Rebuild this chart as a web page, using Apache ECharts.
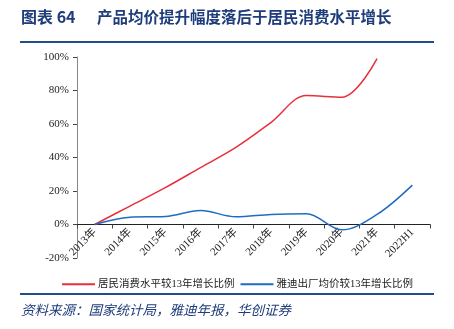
<!DOCTYPE html>
<html><head><meta charset="utf-8">
<script src="https://cdn.jsdelivr.net/npm/echarts@6/dist/echarts.min.js"></script>
<style>html,body{margin:0;padding:0;background:#fff}#c{width:454px;height:329px}</style>
</head><body><div id="c"></div>
<script>
const categories = ['2013年','2014年','2015年','2016年','2017年','2018年','2019年','2020年','2021年','2022H1'];
const consumption = [0, 11, 22, 34, 46, 61, 77, 76, 99, null];
const yadiPrice = [0, 4.4, 4.8, 8.4, 4.6, 6, 6.4, -3.2, 6, 23.5];
const seriesNames = ['居民消费水平较13年增长比例', '雅迪出厂均价较13年增长比例'];
const yTicks = { min: -20, max: 100, interval: 20 };
const titleNum = '图表 64';
const titleText = '产品均价提升幅度落后于居民消费水平增长';
const sourceText = '资料来源：国家统计局，雅迪年报，华创证券';

const serif = "'Liberation Serif','Noto Sans CJK SC',serif";
const gridTop = 57, gridBottom = 71, H = 329;
const gridH = H - gridTop - gridBottom;
const zeroOffset = gridH * (0 - yTicks.min) / (yTicks.max - yTicks.min);
const chart = echarts.init(document.getElementById('c'), null, {renderer:'canvas'});
chart.setOption({
  animation: false,
  grid: { left: 77, right: 24, top: gridTop, bottom: gridBottom },
  legend: {
    left: 57, top: 274, itemWidth: 33, itemHeight: 2, itemGap: 6,
    icon: 'rect',
    textStyle: { fontFamily: serif, fontSize: 10.5, color: '#222', padding: [0,0,0,-2] },
    data: seriesNames
  },
  xAxis: {
    type: 'category', data: categories, boundaryGap: true,
    offset: -zeroOffset,
    axisLine: { onZero: false, lineStyle: { color: '#222', width: 1 } },
    axisTick: { show: true, length: 4, lineStyle: { color: '#444' } },
    axisLabel: { rotate: 45, fontFamily: serif, fontSize: 11, color: '#222', margin: 6 }
  },
  yAxis: {
    type: 'value', min: yTicks.min, max: yTicks.max, interval: yTicks.interval,
    splitLine: { show: false },
    axisLine: { show: true, lineStyle: { color: '#888' } },
    axisTick: { show: true, length: 4, inside: false, lineStyle: { color: '#444' } },
    axisLabel: { formatter: '{value}%', fontFamily: serif, fontSize: 11, color: '#222', margin: 8 }
  },
  series: [
    { name: seriesNames[0], type: 'line', data: consumption, smooth: 0.35, symbol: 'none',
      itemStyle: { color: '#E8303A' }, lineStyle: { color: '#E8303A', width: 1.5 } },
    { name: seriesNames[1], type: 'line', data: yadiPrice, smooth: 0.35, symbol: 'none',
      itemStyle: { color: '#1F6DC2' }, lineStyle: { color: '#1F6DC2', width: 1.5 } }
  ],
  graphic: [
    { type: 'text', left: 21, top: 9, style: { text: titleNum, fill: '#1F3D7A',
      font: "bold 16px 'Noto Sans CJK SC'" } },
    { type: 'text', left: 97, top: 9, style: { text: titleText, fill: '#1F3D7A',
      font: "bold 15.5px 'Noto Sans CJK SC'" } },
    { type: 'rect', shape: { x: 20, y: 41, width: 414, height: 2 }, style: { fill: '#1F4E8C' } },
    { type: 'rect', shape: { x: 20, y: 293, width: 414, height: 2 }, style: { fill: '#1F4E8C' } },
    { type: 'text', left: 21, top: 303, style: { text: sourceText, fill: '#1F3D7A',
      font: "italic 13.5px 'Noto Sans CJK SC'" } }
  ]
});
</script></body></html>
